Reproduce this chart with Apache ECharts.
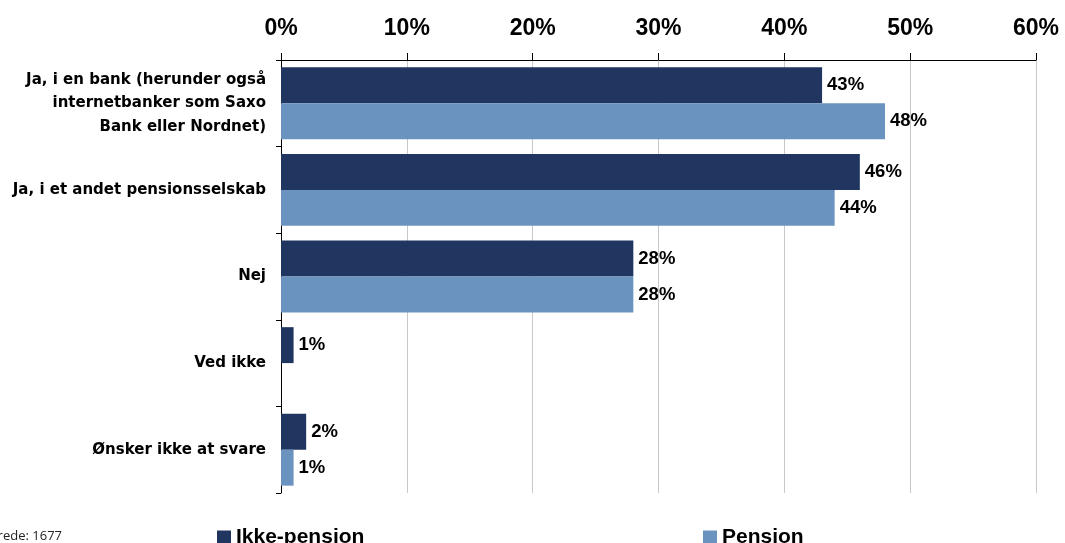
<!DOCTYPE html>
<html>
<head>
<meta charset="utf-8">
<script src="https://cdn.jsdelivr.net/npm/echarts@6/dist/echarts.min.js"></script>
<style>
  html, body { margin: 0; padding: 0; background: #fff; }
  #chart { width: 1065px; height: 543px; }
</style>
</head>
<body>
<div id="chart"></div>
<script>
// data
const categories = [
  'Ja, i en bank (herunder også\ninternetbanker som Saxo\nBank eller Nordnet)',
  'Ja, i et andet pensionsselskab',
  'Nej',
  'Ved ikke',
  'Ønsker ikke at svare'
]
const ikkePension = [43, 46, 28, 1, 2]
const pension = [48, 44, 28, null, 1]
const seriesNames = ['Ikke-pension', 'Pension']
const note = 'Besvarede: 1677'

const font = '"Liberation Sans", Arial, sans-serif'
const wideFont = '"DejaVu Sans", sans-serif'
const dark = '#203560'
const light = '#6b93c0'

const labelStyle = {
  show: true,
  position: 'right',
  distance: 5,
  formatter: (p) => p.value + '%',
  fontFamily: font,
  fontWeight: 'bold',
  fontSize: 18.5,
  color: '#000'
}

const chart = echarts.init(document.getElementById('chart'))
chart.setOption({
  animation: false,
  color: [dark, light],
  grid: { left: 281, right: 29, top: 60, bottom: 50, containLabel: false },
  legend: [
    {
      data: [seriesNames[0]], left: 212, top: 522, itemWidth: 14, itemHeight: 14, icon: 'rect',
      textStyle: { fontFamily: font, fontWeight: 'bold', fontSize: 21, color: '#000' }
    },
    {
      data: [seriesNames[1]], left: 698, top: 522, itemWidth: 14, itemHeight: 14, icon: 'rect',
      textStyle: { fontFamily: font, fontWeight: 'bold', fontSize: 21, color: '#000' }
    }
  ],
  graphic: [{
    type: 'text', left: -38, top: 530,
    style: { text: note, font: '13px "Open Sans", sans-serif', fill: '#222' }
  }],
  xAxis: {
    type: 'value',
    position: 'top',
    min: 0, max: 60, interval: 10,
    axisLine: { show: true, lineStyle: { color: '#000', width: 1 } },
    axisTick: { show: true, length: 7, lineStyle: { color: '#000' } },
    axisLabel: {
      formatter: '{value}%', margin: 20,
      fontFamily: font, fontWeight: 'bold', fontSize: 23, color: '#000'
    },
    splitLine: { show: true, lineStyle: { color: '#c8c8c8', width: 1 } }
  },
  yAxis: {
    type: 'category',
    inverse: true,
    data: categories,
    axisLine: { show: true, lineStyle: { color: '#000' } },
    axisTick: { show: true, length: 5, lineStyle: { color: '#000' } },
    axisLabel: {
      margin: 15, align: 'right', lineHeight: 23.5, padding: [5, 0, 0, 0],
      fontFamily: wideFont, fontWeight: 'bold', fontSize: 15, color: '#000'
    }
  },
  series: [
    {
      name: seriesNames[0], type: 'bar', data: ikkePension,
      barGap: '0%', barCategoryGap: '17%', label: labelStyle
    },
    {
      name: seriesNames[1], type: 'bar', data: pension,
      barGap: '0%', barCategoryGap: '17%', label: labelStyle
    }
  ]
})
</script>
</body>
</html>
